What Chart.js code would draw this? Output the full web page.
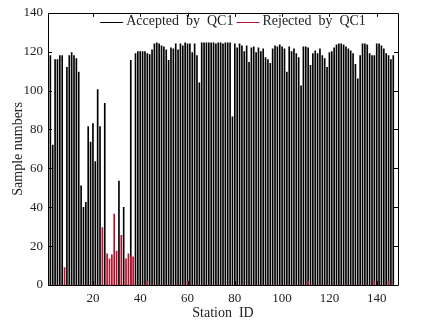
<!DOCTYPE html>
<html>
<head>
<meta charset="utf-8">
<script src="https://cdn.jsdelivr.net/npm/chart.js@4.4.0/dist/chart.umd.min.js"></script>
<style>
  html, body { margin: 0; padding: 0; background: #fff; }
  #wrap { width: 443px; height: 327px; }
</style>
</head>
<body>
<div id="wrap"><canvas id="qc"></canvas></div>
<script>
"use strict";

// Station IDs run from 2 to 147 (one bar each)
var firstStation = 2;

// Samples accepted by QC1, one value per station (2..147)
var accepted = [
    118, 72, 116, 116, 118, 118, 0, 112, 118, 119.5,
    118, 116.5, 109.5, 51, 40, 42.5, 81.5, 73.5, 83, 63.5,
    100.5, 81.5, 0, 93.5, 0, 0, 0, 0, 0, 53.5,
    0, 40, 0, 0, 115.5, 0, 119, 120, 120, 120,
    120, 119, 118.5, 121, 124, 124.5, 124, 123, 122.5, 121,
    115.5, 122, 121.5, 124, 121, 124, 123, 124.5, 124, 124,
    119.5, 124, 118, 104, 124.5, 124.5, 124.5, 124.5, 124.5, 124.5,
    124, 124.5, 124.5, 124, 124.5, 124.5, 124.5, 86.5, 124, 122,
    124, 123, 120, 123, 114.5, 122, 122.5, 119.5, 122, 120,
    121.5, 117, 116, 114, 121.5, 123, 122.5, 123.5, 122.5, 121.5,
    109.5, 122.5, 120, 121.5, 119, 117, 102.5, 122.5, 122.5, 122,
    113, 119, 120.5, 119, 121.5, 118, 116.5, 112, 119.5, 120,
    122, 123.5, 124, 124, 123.5, 122.5, 121.5, 120.5, 119, 113.5,
    106, 118, 124, 124, 123.5, 119, 118, 118, 124, 124,
    123, 121.5, 119, 118, 116, 118
];

// Samples rejected by QC1, same stations
var rejected = [
    0, 0, 0, 0, 0, 0, 9, 0, 0, 0,
    0, 0, 0, 0, 0, 0, 0, 0, 0, 0,
    0, 0, 29.5, 0, 16, 13.5, 15.5, 36.5, 17.5, 0,
    25.5, 0, 13.5, 16, 14.5, 14.5, 0, 0, 0, 0,
    0, 2, 0, 0, 0, 0, 0, 0, 0, 0,
    0, 0, 0, 0, 0, 0, 0, 0, 2, 0,
    0, 0, 0, 0, 0, 0, 0, 0, 0, 0,
    0, 0, 0, 0, 0, 0, 0, 0, 0, 0,
    0, 0, 0, 0, 0, 0, 0, 0, 0, 0,
    0, 0, 0, 0, 0, 0, 0, 0, 0, 0,
    0, 0, 0, 0, 0, 0, 0, 0, 0, 2,
    0, 0, 0, 0, 0, 0, 0, 0, 0, 0,
    0, 0, 0, 0, 0, 0, 0, 0, 0, 0,
    0, 0, 0, 0, 0, 0, 0, 2, 0, 0,
    0, 0, 0, 2, 0, 0
];

var xTicks = [20, 40, 60, 80, 100, 120, 140];
var yTicks = [0, 20, 40, 60, 80, 100, 120, 140];

var seriesNames = ["Accepted  by  QC1", "Rejected  by  QC1"];
var seriesColors = ["#000000", "#b8102c"];

var serif = "'Liberation Serif', 'Times New Roman', serif";

var points = function (values) {
    return values.map(function (v, i) {
        return { x: firstStation + i, y: v };
    });
};

// Box around the plot plus MATLAB-style inward tick marks
var frameTicks = {
    id: "frameTicks",
    afterDraw: function (chart) {
        var ctx = chart.ctx;
        var a = chart.chartArea;
        var xs = chart.scales.x, ys = chart.scales.y;
        var len = 4;
        ctx.save();
        ctx.strokeStyle = "#000";
        ctx.lineWidth = 1;
        ctx.beginPath();
        ctx.rect(Math.round(a.left) + 0.5, Math.round(a.top) + 0.5,
                 Math.round(a.right - a.left), Math.round(a.bottom - a.top));
        xTicks.forEach(function (t) {
            var px = Math.round(xs.getPixelForValue(t)) + 0.5;
            ctx.moveTo(px, a.bottom); ctx.lineTo(px, a.bottom - len);
            ctx.moveTo(px, a.top); ctx.lineTo(px, a.top + len);
        });
        yTicks.forEach(function (t) {
            var py = Math.round(ys.getPixelForValue(t)) + 0.5;
            ctx.moveTo(a.left, py); ctx.lineTo(a.left + len, py);
            ctx.moveTo(a.right, py); ctx.lineTo(a.right - len, py);
        });
        ctx.stroke();
        ctx.restore();
    }
};

// Legend inside the top of the axes, no box, short line samples
var insideLegend = {
    id: "insideLegend",
    afterDraw: function (chart) {
        var ctx = chart.ctx;
        var a = chart.chartArea;
        var lineLen = 23, gap = 3, itemGap = 3;
        ctx.save();
        ctx.font = "14px " + serif;
        ctx.textBaseline = "middle";
        var widths = chart.data.datasets.map(function (ds) {
            return ctx.measureText(ds.label).width;
        });
        var total = 0;
        widths.forEach(function (w) { total += lineLen + gap + w; });
        total += itemGap * (widths.length - 1);
        var x = (a.left + a.right) / 2 + 10 - total / 2;
        var y = a.top + 9;
        chart.data.datasets.forEach(function (ds, i) {
            ctx.strokeStyle = seriesColors[i];
            ctx.lineWidth = 1;
            ctx.beginPath();
            ctx.moveTo(x, Math.round(y) + 0.5);
            ctx.lineTo(x + lineLen, Math.round(y) + 0.5);
            ctx.stroke();
            x += lineLen + gap;
            ctx.fillStyle = "#222";
            ctx.fillText(ds.label, x, y);
            x += widths[i] + itemGap;
        });
        ctx.restore();
    }
};

var chart = new Chart(document.getElementById("qc").getContext("2d"), {
    type: "bar",
    data: {
        datasets: [{
            label: seriesNames[0],
            data: points(accepted),
            backgroundColor: seriesColors[0],
            barThickness: 1,
            grouped: false,
            order: 2
        }, {
            label: seriesNames[1],
            data: points(rejected),
            backgroundColor: seriesColors[1],
            barThickness: 1,
            grouped: false,
            order: 1
        }]
    },
    options: {
        responsive: true,
        maintainAspectRatio: false,
        animation: false,
        layout: { padding: { left: 0, right: 45, top: 10, bottom: 0 } },
        plugins: {
            tooltip: { enabled: false },
            legend: { display: false }
        },
        scales: {
            x: {
                type: "linear",
                min: 1,
                max: 149,
                offset: false,
                grid: { display: false, drawTicks: false },
                border: { display: false },
                afterBuildTicks: function (scale) {
                    scale.ticks = xTicks.map(function (v) { return { value: v }; });
                },
                afterFit: function (scale) { scale.height = 42; },
                ticks: {
                    padding: 6,
                    color: "#222",
                    maxRotation: 0,
                    font: { family: serif, size: 13 }
                },
                title: {
                    display: true,
                    text: "Station  ID",
                    color: "#222",
                    padding: { top: 0, bottom: 5 },
                    font: { family: serif, size: 14 }
                }
            },
            y: {
                min: 0,
                max: 140,
                grid: { display: false, drawTicks: false },
                border: { display: false },
                afterBuildTicks: function (scale) {
                    scale.ticks = yTicks.map(function (v) { return { value: v }; });
                },
                afterFit: function (scale) { scale.width = 48; },
                ticks: {
                    padding: 5,
                    color: "#222",
                    font: { family: serif, size: 13 }
                },
                title: {
                    display: true,
                    text: "Sample numbers",
                    color: "#222",
                    padding: { top: 10, bottom: 0 },
                    font: { family: serif, size: 14 }
                }
            }
        }
    },
    plugins: [frameTicks, insideLegend]
});
</script>
</body>
</html>
